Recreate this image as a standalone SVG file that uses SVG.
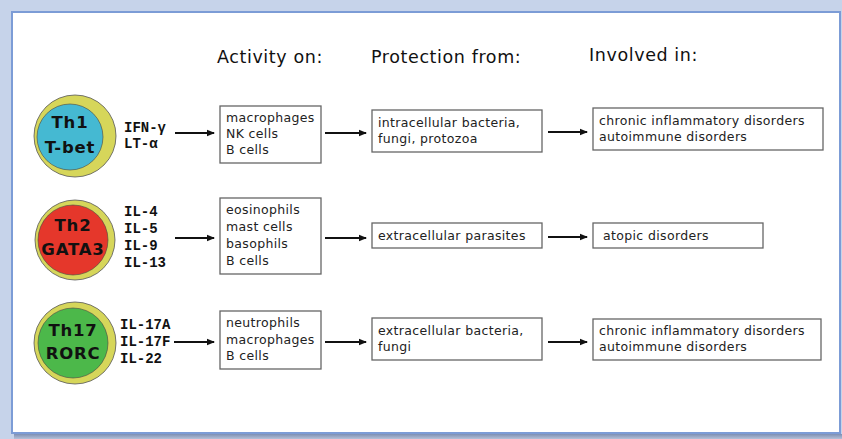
<svg xmlns="http://www.w3.org/2000/svg" width="842" height="439" viewBox="0 0 842 439">
<defs>
<style>
.hd{font-family:"DejaVu Sans",sans-serif;font-size:17.5px;letter-spacing:0.6px;fill:#111}
.cell{font-family:"DejaVu Sans",sans-serif;font-weight:bold;font-size:16.5px;letter-spacing:0.8px;fill:#111;text-anchor:middle}
.cy{font-family:"Liberation Mono",monospace;font-weight:bold;font-size:14px;fill:#111}
.tx{font-family:"DejaVu Sans",sans-serif;font-size:12.5px;letter-spacing:0.35px;fill:#222}
.box{fill:#fff;stroke:#666;stroke-width:1.3}
.ring{fill:#d6d65a;stroke:#555;stroke-width:0.8}
.ar{stroke:#111;stroke-width:1.8;fill:none;marker-end:url(#ah)}
</style>
<marker id="ah" markerWidth="8" markerHeight="8" refX="7" refY="4" orient="auto" markerUnits="userSpaceOnUse">
<path d="M0,0.8 L8,4 L0,7.2 z" fill="#111"/>
</marker>
<linearGradient id="sh" x1="0" y1="0" x2="0" y2="1">
<stop offset="0" stop-color="#7d8fb3"/>
<stop offset="1" stop-color="#b4c0d8"/>
</linearGradient>
</defs>
<rect x="0" y="0" width="842" height="439" fill="#c6d3ea"/>
<rect x="14" y="434" width="828" height="5" fill="url(#sh)"/>
<rect x="12" y="12" width="828" height="421" fill="#fff" stroke="#7c9cd6" stroke-width="2"/>

<g id="headings">
<text class="hd" x="217" y="63">Activity on:</text>
<text class="hd" x="371" y="63">Protection from:</text>
<text class="hd" x="589" y="61">Involved in:</text>
</g>

<g id="th1">
<circle class="ring" cx="75" cy="136" r="41"/>
<circle cx="70" cy="137" r="33" fill="#45b9d2" stroke="#444" stroke-width="0.6"/>
<text class="cell" x="70" y="128">Th1</text>
<text class="cell" x="70" y="153">T-bet</text>
</g>
<g id="th1-cytokines">
<text class="cy" x="124" y="132">IFN-γ</text>
<text class="cy" x="124" y="148">LT-α</text>
</g>
<g id="th1-activity">
<rect class="box" x="220" y="106" width="101" height="57"/>
<text class="tx" x="226" y="122">macrophages</text>
<text class="tx" x="226" y="138">NK cells</text>
<text class="tx" x="226" y="154">B cells</text>
</g>
<g id="th1-protection">
<rect class="box" x="372" y="110" width="170" height="42"/>
<text class="tx" x="378" y="127">intracellular bacteria,</text>
<text class="tx" x="378" y="143">fungi, protozoa</text>
</g>
<g id="th1-involved">
<rect class="box" x="593" y="108" width="230" height="42"/>
<text class="tx" x="599" y="125">chronic inflammatory disorders</text>
<text class="tx" x="599" y="141">autoimmune disorders</text>
</g>

<g id="th2">
<circle class="ring" cx="75" cy="240" r="40"/>
<circle cx="73" cy="240" r="35" fill="#e5372b" stroke="#444" stroke-width="0.6"/>
<text class="cell" x="73" y="231">Th2</text>
<text class="cell" x="73" y="255">GATA3</text>
</g>
<g id="th2-cytokines">
<text class="cy" x="124" y="216">IL-4</text>
<text class="cy" x="124" y="233">IL-5</text>
<text class="cy" x="124" y="250">IL-9</text>
<text class="cy" x="124" y="267">IL-13</text>
</g>
<g id="th2-activity">
<rect class="box" x="220" y="198" width="101" height="76"/>
<text class="tx" x="226" y="214">eosinophils</text>
<text class="tx" x="226" y="231">mast cells</text>
<text class="tx" x="226" y="248">basophils</text>
<text class="tx" x="226" y="265">B cells</text>
</g>
<g id="th2-protection">
<rect class="box" x="372" y="223" width="170" height="25"/>
<text class="tx" x="378" y="240">extracellular parasites</text>
</g>
<g id="th2-involved">
<rect class="box" x="593" y="223" width="170" height="25"/>
<text class="tx" x="603" y="240">atopic disorders</text>
</g>

<g id="th17">
<circle class="ring" cx="75" cy="343" r="41"/>
<circle cx="73" cy="343" r="35" fill="#4cb84a" stroke="#444" stroke-width="0.6"/>
<text class="cell" x="73" y="336">Th17</text>
<text class="cell" x="73" y="359">RORC</text>
</g>
<g id="th17-cytokines">
<text class="cy" x="120" y="329">IL-17A</text>
<text class="cy" x="120" y="346">IL-17F</text>
<text class="cy" x="120" y="363">IL-22</text>
</g>
<g id="th17-activity">
<rect class="box" x="220" y="311" width="101" height="58"/>
<text class="tx" x="226" y="327">neutrophils</text>
<text class="tx" x="226" y="344">macrophages</text>
<text class="tx" x="226" y="360">B cells</text>
</g>
<g id="th17-protection">
<rect class="box" x="372" y="318" width="170" height="42"/>
<text class="tx" x="378" y="335">extracellular bacteria,</text>
<text class="tx" x="378" y="351">fungi</text>
</g>
<g id="th17-involved">
<rect class="box" x="593" y="319" width="228" height="41"/>
<text class="tx" x="599" y="335">chronic inflammatory disorders</text>
<text class="tx" x="599" y="351">autoimmune disorders</text>
</g>

<g id="connectors">
<line class="ar" x1="175" y1="133" x2="214" y2="133"/>
<line class="ar" x1="325" y1="133" x2="366" y2="133"/>
<line class="ar" x1="548" y1="132" x2="587" y2="132"/>
<line class="ar" x1="175" y1="238" x2="214" y2="238"/>
<line class="ar" x1="325" y1="238" x2="366" y2="238"/>
<line class="ar" x1="548" y1="237" x2="587" y2="237"/>
<line class="ar" x1="174" y1="342" x2="214" y2="342"/>
<line class="ar" x1="325" y1="342" x2="366" y2="342"/>
<line class="ar" x1="548" y1="342" x2="587" y2="342"/>
</g>
</svg>
